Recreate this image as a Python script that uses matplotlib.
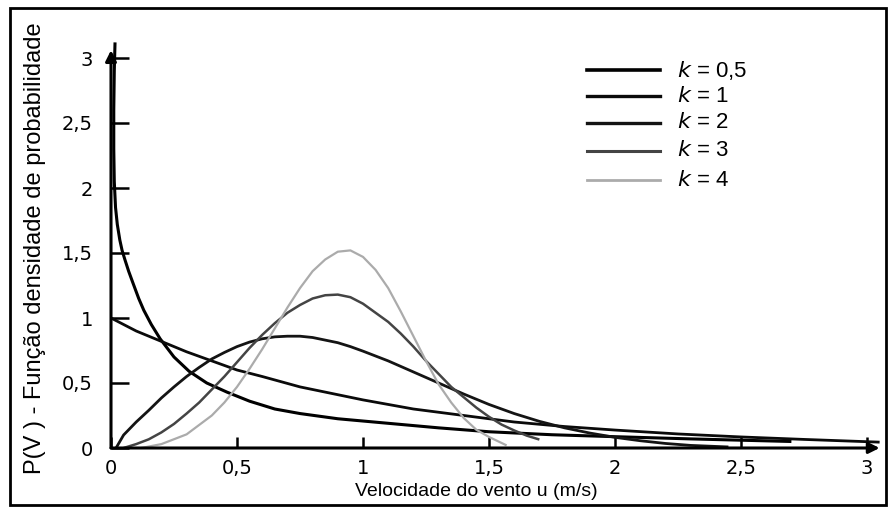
import matplotlib
matplotlib.use("Agg")
import matplotlib.pyplot as plt
import matplotlib.patches as mpatches
from matplotlib.lines import Line2D

plt.rcParams['font.family'] = ['Liberation Sans', 'DejaVu Sans']

# ── Daten ────────────────────────────────────────────────────────────────────
x_k05 = [0.016, 0.013, 0.011, 0.011, 0.013, 0.018, 0.025, 0.035, 0.044, 0.055, 0.07,
         0.087, 0.11, 0.13, 0.16, 0.195, 0.25, 0.31, 0.38, 0.46, 0.55, 0.65, 0.75,
         0.9, 1.1, 1.3, 1.5, 1.75, 2.0, 2.3, 2.7]
y_k05 = [3.12, 2.9, 2.6, 2.3, 2.05, 1.85, 1.72, 1.6, 1.52, 1.45, 1.36,
         1.27, 1.15, 1.06, 0.95, 0.84, 0.70, 0.59, 0.50, 0.43, 0.36, 0.30, 0.265,
         0.225, 0.19, 0.155, 0.125, 0.102, 0.087, 0.07, 0.05]

x_k1 = [0.0, 0.1, 0.2, 0.3, 0.4, 0.5, 0.6, 0.75, 0.9, 1.0, 1.2, 1.4, 1.6, 1.8,
        2.0, 2.25, 2.5, 2.75, 3.05]
y_k1 = [1.0, 0.9, 0.82, 0.74, 0.67, 0.6, 0.55, 0.47, 0.41, 0.37, 0.3, 0.25, 0.2,
        0.165, 0.138, 0.108, 0.085, 0.066, 0.045]

x_k2 = [0.02, 0.05, 0.1, 0.15, 0.2, 0.25, 0.3, 0.35, 0.4, 0.45, 0.5, 0.55, 0.6,
        0.65, 0.7, 0.75, 0.8, 0.85, 0.9, 0.95, 1.0, 1.1, 1.2, 1.3, 1.4, 1.5, 1.6,
        1.7, 1.8, 1.9, 2.0, 2.1, 2.2, 2.3, 2.45]
y_k2 = [0.0, 0.1, 0.2, 0.29, 0.385, 0.47, 0.55, 0.62, 0.685, 0.735, 0.78, 0.815, 0.84,
        0.855, 0.86, 0.86, 0.85, 0.83, 0.81, 0.78, 0.745, 0.67, 0.585, 0.5, 0.415,
        0.335, 0.265, 0.205, 0.155, 0.115, 0.082, 0.056, 0.035, 0.02, 0.008]

x_k3 = [0.05, 0.1, 0.15, 0.2, 0.25, 0.3, 0.35, 0.4, 0.45, 0.5, 0.55, 0.6, 0.65,
        0.7, 0.75, 0.8, 0.85, 0.9, 0.95, 1.0, 1.05, 1.1, 1.15, 1.2, 1.25, 1.3,
        1.35, 1.4, 1.45, 1.5, 1.55, 1.6, 1.65, 1.7]
y_k3 = [0.0, 0.03, 0.067, 0.12, 0.185, 0.265, 0.35, 0.45, 0.55, 0.66, 0.77, 0.87,
        0.96, 1.04, 1.1, 1.15, 1.175, 1.18, 1.16, 1.11, 1.04, 0.97, 0.88, 0.78,
        0.67, 0.57, 0.47, 0.39, 0.31, 0.24, 0.18, 0.135, 0.095, 0.065]

x_k4 = [0.12, 0.2, 0.3, 0.4, 0.45, 0.5, 0.55, 0.6, 0.65, 0.7, 0.75, 0.8, 0.85,
        0.9, 0.95, 1.0, 1.05, 1.1, 1.15, 1.2, 1.25, 1.3, 1.35, 1.4, 1.45, 1.5, 1.57]
y_k4 = [0.0, 0.03, 0.105, 0.25, 0.35, 0.47, 0.61, 0.76, 0.92, 1.08, 1.23, 1.36, 1.45,
        1.51, 1.52, 1.47, 1.37, 1.23, 1.05, 0.86, 0.67, 0.49, 0.35, 0.23, 0.14,
        0.085, 0.02]

series = [("0,5", x_k05, y_k05), ("1", x_k1, y_k1), ("2", x_k2, y_k2),
          ("3", x_k3, y_k3), ("4", x_k4, y_k4)]
tick_vals = [0, 0.5, 1, 1.5, 2, 2.5, 3]
tick_labels = ["0", "0,5", "1", "1,5", "2", "2,5", "3"]

# ── Stile ────────────────────────────────────────────────────────────────────
colors = ["#000000", "#0a0a0a", "#141414", "#444444", "#ababab"]
widths = [2.2, 2.0, 2.0, 1.8, 1.6]

W, H = 890, 507
fig = plt.figure(figsize=(W/100, H/100), dpi=100, facecolor="white")

# Rahmen um das Bild
fig.add_artist(mpatches.Rectangle((10/W, 1 - 505/H), 876/W, 497/H,
               transform=fig.transFigure, fill=False, edgecolor="black", linewidth=2))

x0, y0 = 111, 448           # Pixel des Ursprungs
px_x, px_y = 252, 130       # Pixel pro Einheit
xmax, ymax = 3.08, 3.2
ax = fig.add_axes([x0/W, (H - y0)/H, xmax*px_x/W, ymax*px_y/H])
ax.set_xlim(0, xmax); ax.set_ylim(0, ymax)
for s in ax.spines.values():
    s.set_visible(False)
ax.patch.set_alpha(0)

for (lab, xs, ys), c, lw in zip(series, colors, widths):
    ax.plot(xs, ys, color=c, lw=lw, solid_capstyle='butt', solid_joinstyle='round',
            clip_on=False)

# Achsen mit Pfeilen
arrow = dict(arrowstyle='-|>', color='black', lw=2.2, mutation_scale=16,
             shrinkA=0, shrinkB=0)
ax.annotate('', xy=(3.05, 0), xytext=(0, 0), arrowprops=arrow, annotation_clip=False)
ax.annotate('', xy=(0, 3.06), xytext=(0, 0), arrowprops=arrow, annotation_clip=False)

ax.set_xticks(tick_vals, tick_labels, fontsize=14, family='DejaVu Sans')
ax.set_yticks(tick_vals, tick_labels, fontsize=14, family='DejaVu Sans')
ax.tick_params(axis='x', direction='in', length=8, width=1.8, pad=8)
ax.tick_params(axis='y', direction='in', length=13, width=1.8, pad=13)

fig.text(476/W, 1 - 492/H, "Velocidade do vento u (m/s)", fontsize=14,
         ha='center', va='center')
fig.text(35/W, 1 - 248/H, "P(V ) - Função densidade de probabilidade", fontsize=17,
         ha='center', va='center', rotation=90)

# Legende
leg_y = [70, 96, 123, 151, 180]
for (lab, _, _), c, lw, yy in zip(series, colors, widths, leg_y):
    fig.add_artist(Line2D([587/W, 660/W], [1 - yy/H, 1 - yy/H], color=c, lw=lw + 0.4,
                          transform=fig.transFigure))
    fig.text(677/W, 1 - yy/H, f"$k$ = {lab}", fontsize=16, ha='left', va='center')

fig.savefig("out.png", dpi=100)
